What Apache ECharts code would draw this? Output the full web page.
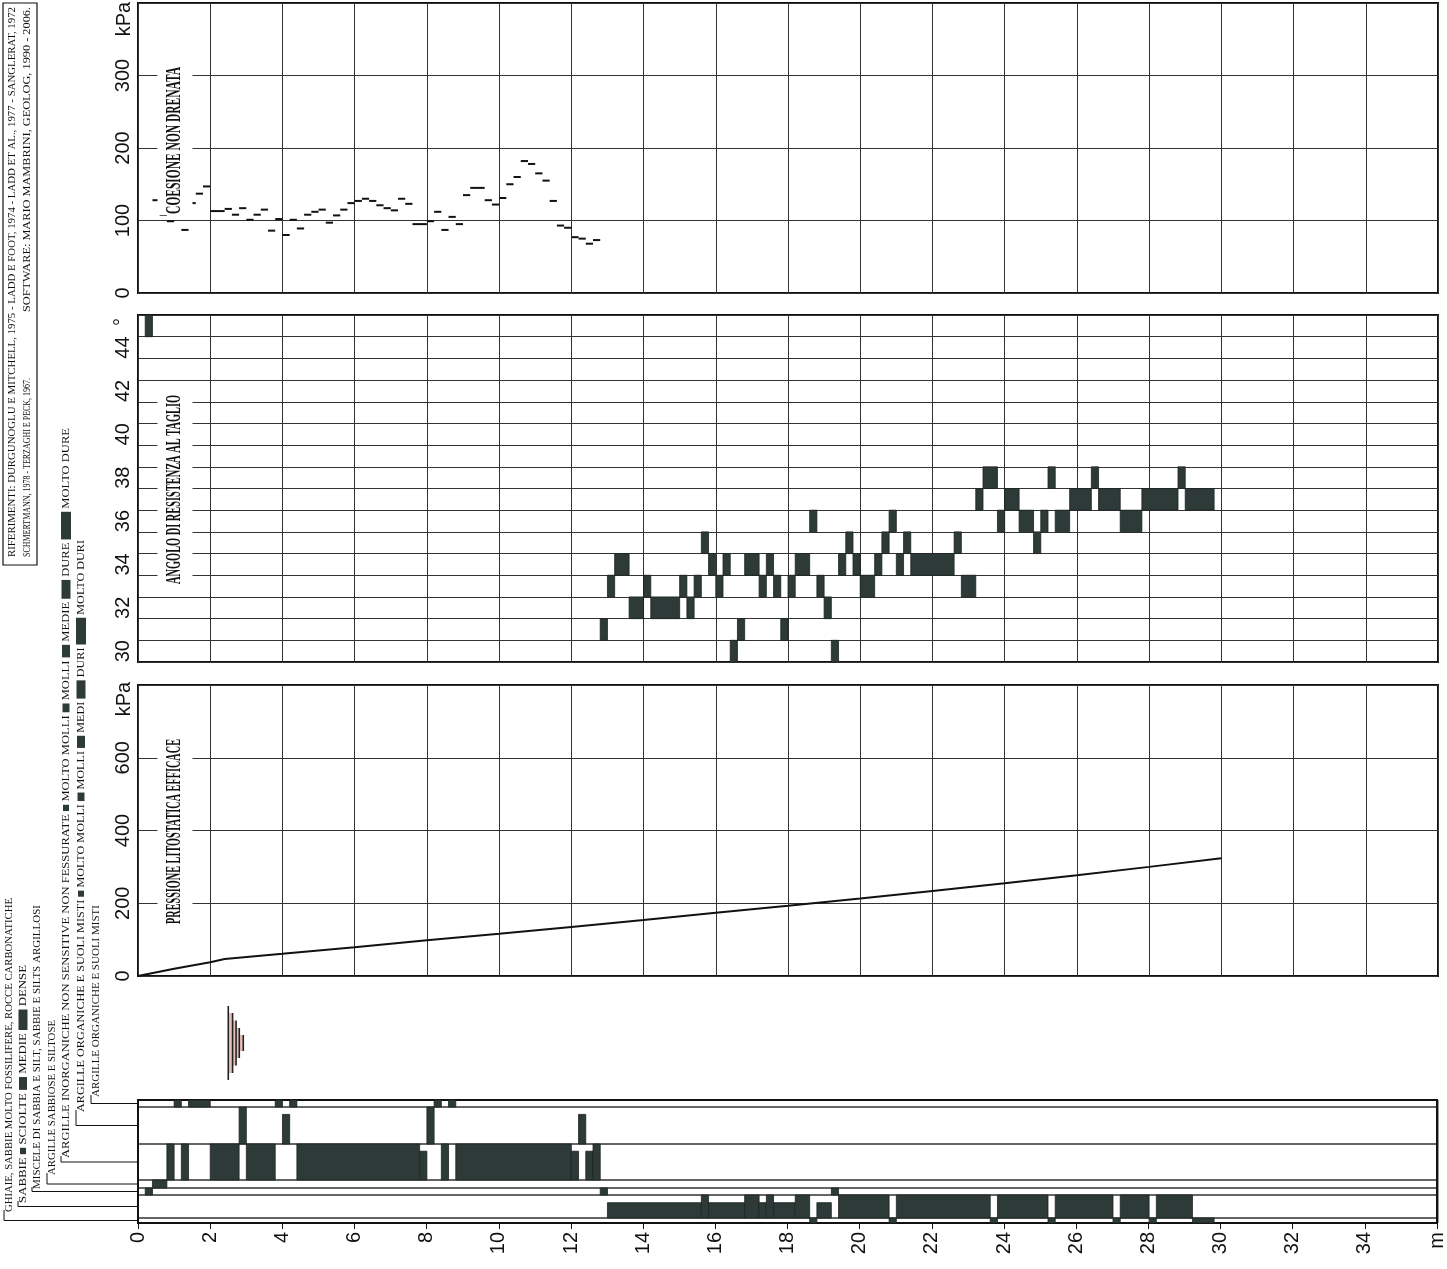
<!DOCTYPE html>
<html>
<head>
<meta charset="utf-8">
<script src="https://cdn.jsdelivr.net/npm/echarts@6/dist/echarts.min.js"></script>
<style>
html, body { margin: 0; padding: 0; background: #fff; }
#chart { width: 1447px; height: 1269px; }
</style>
</head>
<body>
<div id="chart"></div>
<script>
// profondità (m)
const depthMax = 36

// coesione non drenata: [da m, a m, kPa]
const cohesionSteps = [
  [0.4, 0.6, 128], [0.6, 0.8, 108], [0.8, 1.0, 99], [1.2, 1.4, 87], [1.4, 1.6, 124],
  [1.6, 1.8, 137], [1.8, 2.0, 147], [2.0, 2.4, 113], [2.4, 2.6, 116], [2.6, 2.8, 108],
  [2.8, 3.0, 117], [3.0, 3.2, 101], [3.2, 3.4, 108], [3.4, 3.6, 115], [3.6, 3.8, 86],
  [3.8, 4.0, 102], [4.0, 4.2, 80], [4.2, 4.4, 101], [4.4, 4.6, 89], [4.6, 4.8, 108],
  [4.8, 5.0, 112], [5.0, 5.2, 115], [5.2, 5.4, 97], [5.4, 5.6, 107], [5.6, 5.8, 115],
  [5.8, 6.0, 124], [6.0, 6.2, 127], [6.2, 6.4, 130], [6.4, 6.6, 127], [6.6, 6.8, 121],
  [6.8, 7.0, 117], [7.0, 7.2, 114], [7.2, 7.4, 130], [7.4, 7.6, 123], [7.6, 8.0, 95],
  [8.0, 8.2, 99], [8.2, 8.4, 112], [8.4, 8.6, 87], [8.6, 8.8, 105], [8.8, 9.0, 95],
  [9.0, 9.2, 135], [9.2, 9.6, 145], [9.6, 9.8, 128], [9.8, 10.0, 122], [10.0, 10.2, 131],
  [10.2, 10.4, 150], [10.4, 10.6, 160], [10.6, 10.8, 182], [10.8, 11.0, 178], [11.0, 11.2, 165],
  [11.2, 11.4, 155], [11.4, 11.6, 127], [11.6, 11.8, 93], [11.8, 12.0, 90], [12.0, 12.2, 77],
  [12.2, 12.4, 75], [12.4, 12.6, 68], [12.6, 12.8, 73]
]

// angolo di resistenza al taglio: [da m, a m, gradi]
const angleLabels = ['30', '31', '32', '33', '34', '35', '36', '37', '38', '39', '40', '41', '42', '43', '44', '45']
const frictionSteps = [
  [0.2, 0.4, 45],
  [12.8, 13.0, 31], [13.0, 13.2, 33], [13.2, 13.6, 34], [13.6, 14.0, 32], [14.0, 14.2, 33],
  [14.2, 15.0, 32], [15.0, 15.2, 33], [15.2, 15.4, 32], [15.4, 15.6, 33], [15.6, 15.8, 35],
  [15.8, 16.0, 34], [16.0, 16.2, 33], [16.2, 16.4, 34], [16.4, 16.6, 30], [16.6, 16.8, 31],
  [16.8, 17.2, 34], [17.2, 17.4, 33], [17.4, 17.6, 34], [17.6, 17.8, 33], [17.8, 18.0, 31],
  [18.0, 18.2, 33], [18.2, 18.6, 34], [18.6, 18.8, 36], [18.8, 19.0, 33], [19.0, 19.2, 32],
  [19.2, 19.4, 30], [19.4, 19.6, 34], [19.6, 19.8, 35], [19.8, 20.0, 34], [20.0, 20.4, 33],
  [20.4, 20.6, 34], [20.6, 20.8, 35], [20.8, 21.0, 36], [21.0, 21.2, 34], [21.2, 21.4, 35],
  [21.4, 22.6, 34], [22.6, 22.8, 35], [22.8, 23.2, 33], [23.2, 23.4, 37], [23.4, 23.8, 38],
  [23.8, 24.0, 36], [24.0, 24.4, 37], [24.4, 24.8, 36], [24.8, 25.0, 35], [25.0, 25.2, 36],
  [25.2, 25.4, 38], [25.4, 25.8, 36], [25.8, 26.4, 37], [26.4, 26.6, 38], [26.6, 27.2, 37],
  [27.2, 27.8, 36], [27.8, 28.8, 37], [28.8, 29.0, 38], [29.0, 29.8, 37]
]

// pressione litostatica efficace
const pressureDepth = [0, 1, 2, 2.4, 4, 6, 8, 10, 12, 14, 16, 18, 20, 22, 24, 26, 28, 30]
const pressureValue = [0, 20, 38, 47, 61, 79, 98, 116, 135, 154, 174, 193, 213, 234, 255, 277, 300, 324]

// falda
const waterDepth = [2.5]

// litologia: [da m, a m, classe di consistenza]
const argilleOrganiche = [[1.0, 1.2], [1.4, 2.0], [3.8, 4.0], [4.2, 4.4], [8.2, 8.4], [8.6, 8.8]]
const argilleOrganicheMisti = [[2.8, 3.0, 5], [4.0, 4.2, 4], [8.0, 8.2, 5], [12.2, 12.4, 4]]
const argilleInorganiche = [
  [0.8, 1.0, 5], [1.2, 1.4, 5], [2.0, 2.8, 5], [3.0, 3.8, 5], [4.4, 7.8, 5], [7.8, 8.0, 4],
  [8.4, 8.6, 5], [8.8, 12.0, 5], [12.0, 12.2, 4], [12.4, 12.6, 4], [12.6, 12.8, 5]
]
const argilleSabbiose = [[0.4, 0.8]]
const miscele = [[0.2, 0.4], [12.8, 13.0], [19.2, 19.4]]
const sabbie = [
  [13.0, 15.6, 2], [15.6, 15.8, 3], [15.8, 16.8, 2], [16.8, 17.2, 3], [17.2, 17.4, 2],
  [17.4, 17.6, 3], [17.6, 18.2, 2], [18.2, 18.6, 3], [18.8, 19.2, 2], [19.4, 20.8, 3],
  [21.0, 23.6, 3], [23.8, 25.2, 3], [25.4, 27.0, 3], [27.2, 28.0, 3], [28.2, 29.2, 3]
]
const ghiaie = [[18.6, 18.8], [20.8, 21.0], [23.6, 23.8], [25.2, 25.4], [27.0, 27.2], [28.0, 28.2], [29.2, 29.8]]

const lithoRows = [argilleOrganiche, argilleOrganicheMisti, argilleInorganiche, argilleSabbiose, miscele, sabbie, ghiaie]
const lithoClasses = [1, 5, 5, 1, 1, 3, 1]

// layout
const plotLeft = 138
const plotWidth = 1300
const rowHeights = [7, 37, 36, 8, 7, 23, 5]
const lithoTop = 1100
const dark = '#2d3a37'
const ink = '#111'

const rowTops = []
rowHeights.reduce((acc, h) => { rowTops.push(acc); return acc + h }, lithoTop)

const grids = [
  { left: plotLeft, top: 3, width: plotWidth, height: 290 },
  { left: plotLeft, top: 315, width: plotWidth, height: 347 },
  { left: plotLeft, top: 685, width: plotWidth, height: 291 },
  { left: plotLeft, top: 998, width: plotWidth, height: 90 }
]
rowHeights.forEach((h, i) => grids.push({ left: plotLeft, top: rowTops[i], width: plotWidth, height: h }))
grids.push({ left: plotLeft, top: lithoTop, width: plotWidth, height: 123 })
grids.forEach((g, i) => {
  g.show = i !== 3
  g.backgroundColor = 'transparent'
  g.borderColor = i >= 4 && i <= 10 ? '#333' : ink
  g.borderWidth = i >= 4 && i <= 10 ? 1 : 2
})

const labelFont = { fontFamily: 'Liberation Sans', fontSize: 20, color: ink }

const xAxes = grids.map((g, i) => ({
  type: 'value', gridIndex: i, min: 0, max: depthMax, interval: 2,
  axisLine: { show: i === 11, lineStyle: { color: ink, width: 2 } },
  axisTick: { show: i === 11, length: 6, lineStyle: { color: ink } },
  axisLabel: i === 11
    ? Object.assign({ rotate: 90, margin: 9, formatter: v => v === depthMax ? 'm' : v }, labelFont)
    : { show: false },
  splitLine: { show: i <= 2, lineStyle: { color: '#333', width: 1 } }
}))

const yAxes = grids.map((g, i) => {
  if (i === 0 || i === 2) {
    const max = i === 0 ? 400 : 800
    return {
      type: 'value', gridIndex: i, min: 0, max: max, interval: max / 4,
      axisLine: { show: false }, axisTick: { show: false },
      axisLabel: Object.assign({ rotate: 90, margin: 5, formatter: v => v >= max ? '' : v }, labelFont),
      splitLine: { lineStyle: { color: '#333', width: 1 } }
    }
  }
  if (i === 1) {
    return {
      type: 'category', gridIndex: 1, data: angleLabels, boundaryGap: true,
      axisLine: { show: false }, axisTick: { show: false },
      axisLabel: Object.assign({ rotate: 90, margin: 5, interval: 0,
        formatter: v => (+v % 2 === 0 && +v < 45) ? v : '' }, labelFont),
      splitLine: { show: true, interval: 0, lineStyle: { color: '#333', width: 1 } }
    }
  }
  return { type: 'value', gridIndex: i, min: 0, max: 1, show: false }
})

function darkRect(x0, x1, y0, y1) {
  return {
    type: 'rect',
    shape: { x: x0, y: y1, width: x1 - x0, height: y0 - y1 },
    style: { fill: dark, stroke: '#1c2422', lineWidth: 0.8 }
  }
}

const series = []

series.push({
  type: 'custom', xAxisIndex: 0, yAxisIndex: 0,
  encode: { x: [0, 1], y: 2 },
  data: cohesionSteps,
  renderItem: (params, api) => {
    const a = api.coord([api.value(0), api.value(2)])
    const b = api.coord([api.value(1), api.value(2)])
    return { type: 'line', shape: { x1: a[0], y1: a[1], x2: b[0], y2: b[1] }, style: { stroke: ink, lineWidth: 2 } }
  }
})

series.push({
  type: 'custom', xAxisIndex: 1, yAxisIndex: 1,
  encode: { x: [0, 1], y: 2 },
  data: frictionSteps.map(s => [s[0], s[1], angleLabels.indexOf(String(s[2]))]),
  renderItem: (params, api) => {
    const a = api.coord([api.value(0), api.value(2)])
    const b = api.coord([api.value(1), api.value(2)])
    const h = api.size([0, 1])[1]
    return darkRect(a[0], b[0], a[1] + h / 2, a[1] - h / 2)
  }
})

series.push({
  type: 'line', xAxisIndex: 2, yAxisIndex: 2,
  data: pressureDepth.map((d, i) => [d, pressureValue[i]]),
  symbol: 'none', lineStyle: { color: ink, width: 2 }
})

series.push({
  type: 'custom', xAxisIndex: 3, yAxisIndex: 3,
  data: waterDepth.map(d => [d, 0.5]),
  renderItem: (params, api) => {
    const p = api.coord([api.value(0), api.value(1)])
    const offs = [0, 4.3, 7.8, 11, 15]
    const half = [37, 30, 22.5, 15, 8]
    const children = []
    for (let i = 0; i < offs.length - 1; i++) {
      children.push({ type: 'rect', shape: { x: p[0] + offs[i], y: p[1] - half[i + 1], width: offs[i + 1] - offs[i], height: 2 * half[i + 1] }, style: { fill: '#e6c3ba' } })
    }
    offs.forEach((o, i) => children.push({ type: 'line', shape: { x1: p[0] + o, y1: p[1] - half[i], x2: p[0] + o, y2: p[1] + half[i] }, style: { stroke: '#222', lineWidth: 1.6 } }))
    return { type: 'group', children }
  }
})

lithoRows.forEach((rows, r) => {
  series.push({
    type: 'custom', xAxisIndex: 4 + r, yAxisIndex: 4 + r,
    encode: { x: [0, 1], y: 2 },
    data: rows.map(s => [s[0], s[1], (s[2] || 1) / lithoClasses[r]]),
    renderItem: (params, api) => {
      const a = api.coord([api.value(0), 0])
      const b = api.coord([api.value(1), api.value(2)])
      return darkRect(a[0], b[0], a[1], b[1])
    }
  })
})

// testi verticali
const ctx = document.createElement('canvas').getContext('2d')

function vText(x, y0, y1, text, font, extra) {
  ctx.font = font
  const sx = (y0 - y1) / ctx.measureText(text).width
  return {
    type: 'text', x: x, y: y0, rotation: Math.PI / 2, scaleX: sx, z: 100,
    style: Object.assign({ text: text, font: font, fill: ink, align: 'left', verticalAlign: 'middle',
      textAlign: 'left', textVerticalAlign: 'middle' }, extra || {})
  }
}

const titleFont = 'bold 21px "Liberation Serif"'
const titles = [
  [175, 215, 68, 'COESIONE NON DRENATA'],
  [175, 585, 396, 'ANGOLO DI RESISTENZA AL TAGLIO'],
  [175, 925, 740, 'PRESSIONE LITOSTATICA EFFICACE']
]

const graphic = []
titles.forEach(t => graphic.push(vText(t[0], t[1], t[2], t[3], titleFont, { backgroundColor: '#fff', padding: [7, 2] })))

function unitText(x, y, text) {
  return {
    type: 'text', x: x, y: y, rotation: Math.PI / 2, z: 100,
    style: { text: text, font: '20px "Liberation Sans"', fill: ink, align: 'center', verticalAlign: 'middle',
      textAlign: 'center', textVerticalAlign: 'middle' }
  }
}
graphic.push(unitText(124, 19, 'kPa'))
graphic.push(unitText(122, 322, '°'))
graphic.push(unitText(124, 699, 'kPa'))

// riquadro riferimenti
const refFont = '10px "Liberation Serif"'
graphic.push({ type: 'rect', shape: { x: 3, y: 3, width: 34, height: 562 }, style: { fill: 'none', stroke: ink, lineWidth: 1.2 } })
graphic.push(vText(12, 557, 7, 'RIFERIMENTI: DURGUNOGLU E MITCHELL, 1975 - LADD E FOOT, 1974 - LADD ET AL., 1977 - SANGLERAT, 1972', refFont))
graphic.push(vText(27, 557, 378, 'SCHMERTMANN, 1978 - TERZAGHI E PECK, 1967.', refFont))
graphic.push(vText(27, 312, 7, 'SOFTWARE: MARIO MAMBRINI, GEOLOG, 1990 - 2006.', refFont))

// legenda litologica
const legendFont = '10px "Liberation Serif"'
const legendItems = [
  { row: 6, x: 9, y0: 1212, y1: 898, parts: ['GHIAIE, SABBIE MOLTO FOSSILIFERE, ROCCE CARBONATICHE'] },
  { row: 5, x: 23, y0: 1203, y1: 965, parts: ['SABBIE ', [5, 6], ' SCIOLTE ', [10, 8], ' MEDIE ', [16, 9], ' DENSE'] },
  { row: 4, x: 37, y0: 1189, y1: 905, parts: ['MISCELE DI SABBIA E SILT, SABBIE E SILTS ARGILLOSI'] },
  { row: 3, x: 52, y0: 1175, y1: 1020, parts: ['ARGILLE SABBIOSE E SILTOSE'] },
  { row: 2, x: 66, y0: 1158, y1: 428, parts: ['ARGILLE INORGANICHE NON SENSITIVE NON FESSURATE ', [5, 6], ' MOLTO MOLLI ', [7, 7], ' MOLLI ', [10, 8], ' MEDIE ', [15, 9], ' DURE ', [22, 10], ' MOLTO DURE'] },
  { row: 1, x: 81, y0: 1112, y1: 540, parts: ['ARGILLE ORGANICHE E SUOLI MISTI ', [5, 6], ' MOLTO MOLLI ', [7, 7], ' MOLLI ', [10, 8], ' MEDI ', [15, 9], ' DURI ', [22, 10], ' MOLTO DURI'] },
  { row: 0, x: 96, y0: 1097, y1: 905, parts: ['ARGILLE ORGANICHE E SUOLI MISTI'] }
]

legendItems.forEach(it => {
  ctx.font = legendFont
  let text = ''
  let w = 0
  const rich = {}
  it.parts.forEach((p, i) => {
    if (typeof p === 'string') {
      text += p
      w += ctx.measureText(p).width
    } else {
      const k = 'b' + i
      rich[k] = { width: p[0], height: p[1], backgroundColor: dark }
      text += '{' + k + '| }'
      w += p[0]
    }
  })
  graphic.push({
    type: 'text', x: it.x, y: it.y0, rotation: Math.PI / 2, scaleX: (it.y0 - it.y1) / w, z: 100,
    style: { text: text, rich: rich, font: legendFont, fill: ink, align: 'left', verticalAlign: 'middle',
      textAlign: 'left', textVerticalAlign: 'middle' }
  })
  const rowY = rowTops[it.row] + rowHeights[it.row] / 2
  graphic.push({
    type: 'polyline', z: 100,
    shape: { points: [[it.x - 5, it.y0 - 2], [it.x - 5, rowY], [plotLeft, rowY]] },
    style: { stroke: ink, lineWidth: 1, fill: 'none' }
  })
})

const myChart = echarts.init(document.getElementById('chart'))
myChart.setOption({
  animation: false,
  backgroundColor: '#fff',
  grid: grids,
  xAxis: xAxes,
  yAxis: yAxes,
  series: series,
  graphic: graphic
})
</script>
</body>
</html>
